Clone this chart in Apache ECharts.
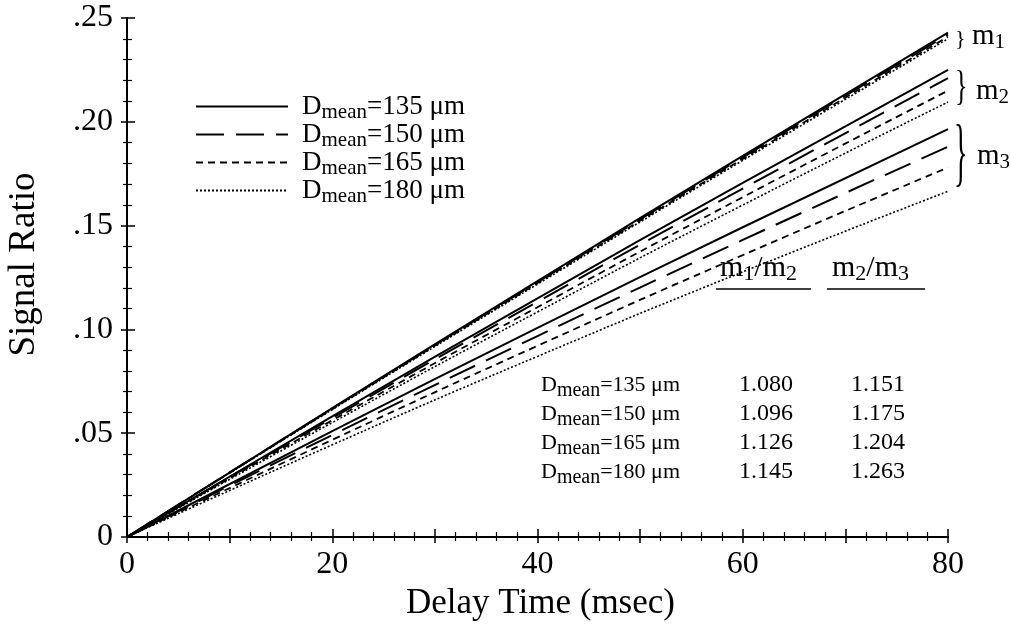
<!DOCTYPE html>
<html><head><meta charset="utf-8">
<script src="https://cdn.jsdelivr.net/npm/echarts@6/dist/echarts.min.js"></script>
<style>html,body{margin:0;padding:0;background:#fff}#c{width:1011px;height:628px}</style>
</head><body><div id="c"></div><script>
// ---------------- data ----------------
const delayTimes = [0, 20, 40, 60, 80];
const diameters = ['135', '150', '165', '180'];
// group m1 (top bundle)
const m1_135 = [0, 0.0621, 0.1233, 0.1836, 0.243];
const m1_150 = [0, 0.0619, 0.1228, 0.1829, 0.242];
const m1_165 = [0, 0.0616, 0.1223, 0.1821, 0.241];
const m1_180 = [0, 0.0614, 0.1218, 0.1814, 0.240];
// group m2
const m2_135 = [0, 0.0581, 0.1150, 0.1706, 0.225];
const m2_150 = [0, 0.0573, 0.1133, 0.1678, 0.221];
const m2_165 = [0, 0.0562, 0.1107, 0.1637, 0.215];
const m2_180 = [0, 0.0551, 0.1084, 0.1599, 0.2095];
// group m3
const m3_135 = [0, 0.0510, 0.1007, 0.1492, 0.1965];
const m3_150 = [0, 0.0491, 0.0968, 0.1431, 0.188];
const m3_165 = [0, 0.0468, 0.0921, 0.1358, 0.178];
const m3_180 = [0, 0.0444, 0.0870, 0.1277, 0.1665];
// table
const ratioM1M2 = ['1.080', '1.096', '1.126', '1.145'];
const ratioM2M3 = ['1.151', '1.175', '1.204', '1.263'];
const yTickLabels = {0: '0', 0.05: '.05', 0.1: '.10', 0.15: '.15', 0.2: '.20', 0.25: '.25'};
const xTickLabels = {0: '0', 20: '20', 40: '40', 60: '60', 80: '80'};

// ---------------- styles ----------------
const FONT = '"Liberation Serif", "DejaVu Serif", serif';
const lineStyles = {
  '135': {type: 'solid', width: 2},
  '150': {type: [28, 12], width: 2},
  '165': {type: [7, 5], width: 1.8},
  '180': {type: [2, 2], width: 1.6}
};
const groups = {
  '135': [m1_135, m2_135, m3_135],
  '150': [m1_150, m2_150, m3_150],
  '165': [m1_165, m2_165, m3_165],
  '180': [m1_180, m2_180, m3_180]
};

const series = [];
diameters.forEach(d => {
  groups[d].forEach(arr => {
    series.push({
      name: d,
      type: 'line',
      symbol: 'none',
      smooth: true,
      silent: true,
      lineStyle: Object.assign({color: '#000'}, lineStyles[d]),
      itemStyle: {color: '#000'},
      data: delayTimes.map((x, i) => [x, arr[i]])
    });
  });
});

const axisLine = {show: true, lineStyle: {color: '#000', width: 2}};
// rich text helpers: main token + lowered subscript token
function mainTok(size, extra) {
  return Object.assign({fontFamily: FONT, fontSize: size, color: '#000', fill: '#000'}, extra || {});
}
function subTok(size, drop) {
  return {fontFamily: FONT, fontSize: size, padding: [drop, 0, 0, 0], color: '#000', fill: '#000'};
}
const richD = {
  d: mainTok(27),
  p: mainTok(27, {padding: [0, 0, 0, 9]}),
  s: subTok(21, 12)
};

const graphic = [];
// table headers
function headerText(x, top, a, b) {
  graphic.push({
    type: 'text', left: x, top: top,
    style: {
      text: `{m|m}{s|${a}}{m|/m}{s|${b}}`,
      rich: {m: mainTok(30), s: subTok(22, 12)}
    }
  });
}
headerText(720, 253, '1', '2');
headerText(832, 253, '2', '3');
graphic.push({type: 'line', shape: {x1: 716, y1: 289, x2: 811, y2: 289}, style: {stroke: '#000', lineWidth: 1.5}});
graphic.push({type: 'line', shape: {x1: 827, y1: 289, x2: 925, y2: 289}, style: {stroke: '#000', lineWidth: 1.5}});
const rowCenter = [385, 414, 443, 472];
diameters.forEach((d, i) => {
  graphic.push({
    type: 'text', left: 541, top: rowCenter[i] - 11,
    style: {
      text: `{d|D}{s|mean}{d|=${d} μm}`,
      rich: {d: mainTok(22), s: subTok(20, 11)}
    }
  });
  graphic.push({type: 'text', x: 766, y: rowCenter[i], style: {text: ratioM1M2[i], fontFamily: FONT, fontSize: 24, fill: '#000', align: 'center', verticalAlign: 'middle'}});
  graphic.push({type: 'text', x: 878, y: rowCenter[i], style: {text: ratioM2M3[i], fontFamily: FONT, fontSize: 24, fill: '#000', align: 'center', verticalAlign: 'middle'}});
});
// braces and group labels
function brace(x, y, size, sy) {
  graphic.push({type: 'text', x: x, y: y, scaleY: sy, style: {text: '}', fontFamily: FONT, fontSize: size, fill: '#000', align: 'left', verticalAlign: 'middle'}});
}
function groupLabel(x, top, n) {
  graphic.push({
    type: 'text', left: x, top: top,
    style: {
      text: `{m|m}{s|${n}}`,
      rich: {m: mainTok(29), s: subTok(21, 12)}
    }
  });
}
brace(955, 39, 22, 1); groupLabel(972, 22, '1');
brace(955, 88, 26, 1.6); groupLabel(976, 77, '2');
brace(954, 157, 28, 2.7); groupLabel(977, 142, '3');

const option = {
  animation: false,
  backgroundColor: '#fff',
  grid: {left: 127, right: 63, top: 18, bottom: 91, show: false, containLabel: false, outerBoundsMode: 'none'},
  legend: {
    show: true,
    left: 190, top: 88,
    orient: 'vertical',
    itemWidth: 92, itemHeight: 14, itemGap: -2,
    data: diameters,
    selectedMode: false,
    itemStyle: {color: 'transparent', borderWidth: 0, opacity: 0},
    formatter: name => `{p|D}{s|mean}{d|=${name} μm}`,
    textStyle: {rich: richD}
  },
  xAxis: [{
    type: 'value', min: 0, max: 80, interval: 10,
    name: 'Delay Time (msec)', nameLocation: 'middle', nameGap: 48,
    nameTextStyle: {fontFamily: FONT, fontSize: 35, color: '#000', padding: [0, 0, 0, 6]},
    axisLine: axisLine,
    axisTick: {show: true, inside: true, length: 8, lineStyle: {color: '#000', width: 1.5}},
    minorTick: {show: true, splitNumber: 5, length: 5, lineStyle: {color: '#000', width: 1.2}},
    splitLine: {show: false},
    axisLabel: {fontFamily: FONT, fontSize: 32, color: '#000', margin: 12,
      formatter: v => (xTickLabels[v] !== undefined ? xTickLabels[v] : '')}
  }, {
    type: 'value', min: 0, max: 80, interval: 10, position: 'top',
    axisLine: axisLine,
    axisTick: {show: true, inside: true, length: 6, lineStyle: {color: '#000', width: 1.5}},
    minorTick: {show: true, splitNumber: 5, length: 4, lineStyle: {color: '#000', width: 1.2}},
    splitLine: {show: false}, axisLabel: {show: false}
  }],
  yAxis: [{
    type: 'value', min: 0, max: 0.25, interval: 0.05,
    name: 'Signal Ratio', nameLocation: 'middle', nameGap: 84, nameRotate: 90,
    nameTextStyle: {fontFamily: FONT, fontSize: 37, color: '#000', padding: [0, 0, 0, 26]},
    axisLine: axisLine,
    axisTick: {show: true, inside: true, length: 8, lineStyle: {color: '#000', width: 1.5}},
    minorTick: {show: true, splitNumber: 5, length: 5, lineStyle: {color: '#000', width: 1.2}},
    splitLine: {show: false},
    axisLabel: {fontFamily: FONT, fontSize: 32, color: '#000', margin: 14,
      formatter: v => {
        const k = Math.round(v * 100) / 100;
        return yTickLabels[k] !== undefined ? yTickLabels[k] : '';
      }}
  }, {
    type: 'value', min: 0, max: 0.25, interval: 0.05, position: 'right',
    axisLine: axisLine,
    axisTick: {show: true, inside: true, length: 6, lineStyle: {color: '#000', width: 1.5}},
    minorTick: {show: true, splitNumber: 5, length: 4, lineStyle: {color: '#000', width: 1.2}},
    splitLine: {show: false}, axisLabel: {show: false}
  }],
  graphic: graphic,
  series: series
};
const chart = echarts.init(document.getElementById('c'), null, {renderer: 'canvas'});
chart.setOption(option);
</script></body></html>
